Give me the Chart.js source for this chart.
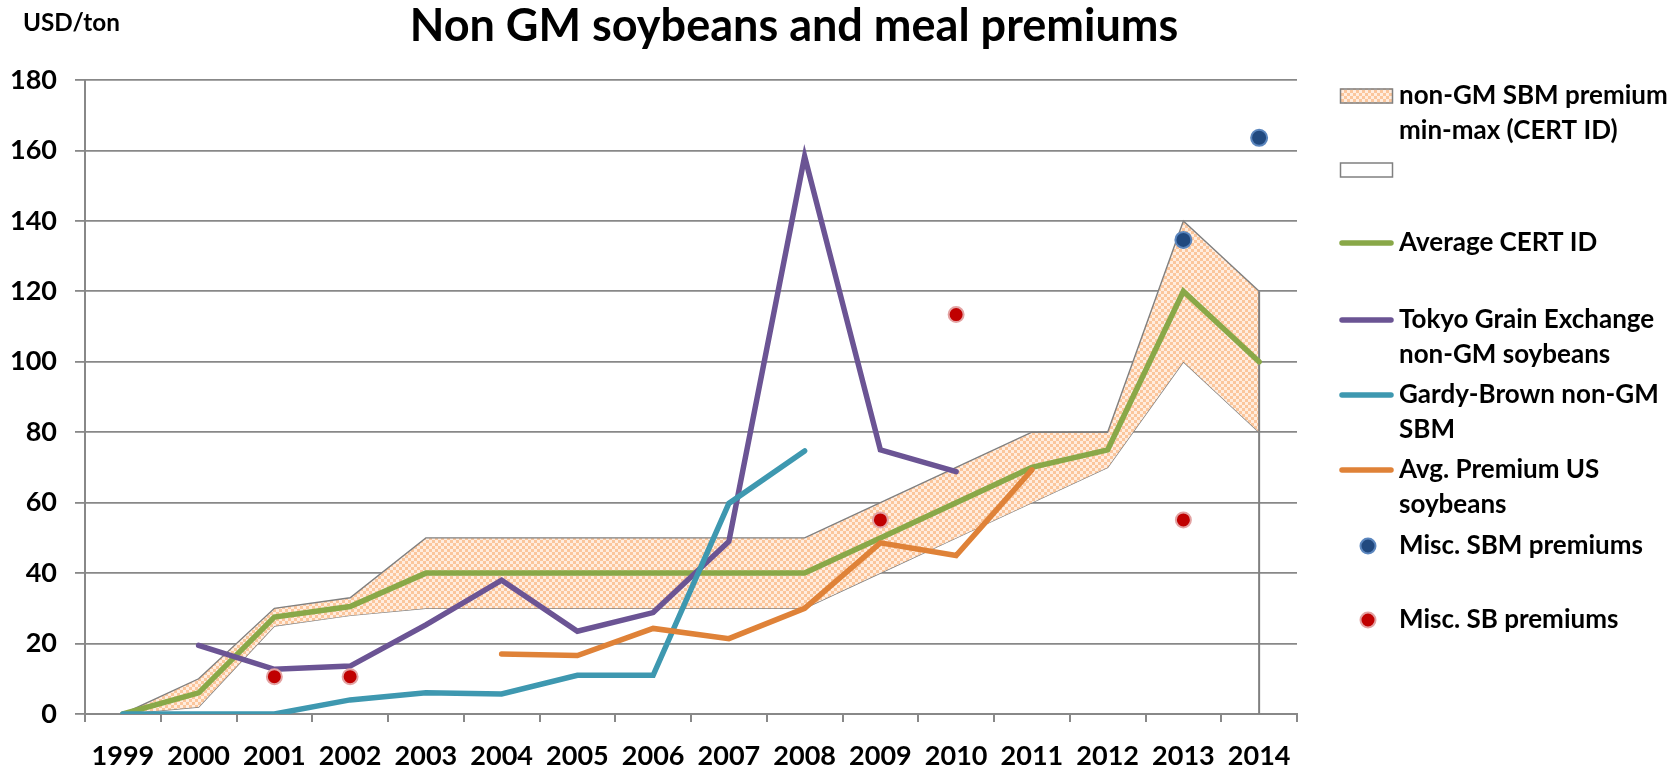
<!DOCTYPE html>
<html>
<head>
<meta charset="utf-8">
<script src="https://cdn.jsdelivr.net/npm/chart.js@4.4.1/dist/chart.umd.min.js"></script>
<style>
html,body{margin:0;padding:0;background:#ffffff;}
#wrap{position:relative;width:1677px;height:768px;}
</style>
</head>
<body>
<div id="wrap"><canvas id="c" width="1677" height="768"></canvas></div>
<script>
// ---- data ----
const years = ['1999','2000','2001','2002','2003','2004','2005','2006','2007','2008','2009','2010','2011','2012','2013','2014'];
const certMin = [0, 2, 25, 28, 30, 30, 30, 30, 30, 30, 40, 50, 60, 70, 100, 80];
const certMax = [0, 10, 30, 33, 50, 50, 50, 50, 50, 50, 60, 70, 80, 80, 140, 120];
const certAvg = [0, 6, 27.5, 30.5, 40, 40, 40, 40, 40, 40, 50, 60, 70, 75, 120, 100];
const tokyo   = [null, 19.5, 12.7, 13.6, 25.3, 38.0, 23.5, 28.8, 49.0, 158.3, 75.0, 68.8, null, null, null, null];
const gardy   = [0, 0, 0, 4.0, 6.0, 5.7, 11.0, 11.0, 59.8, 74.7, null, null, null, null, null, null];
const usAvg   = [null, null, null, null, null, 17.0, 16.6, 24.3, 21.4, 30.0, 48.6, 45.0, 69.3, null, null, null];
const miscSBM = [null, null, null, null, null, null, null, null, null, null, null, null, null, null, 134.6, 163.6];
const miscSB  = [null, null, 10.6, 10.6, null, null, null, null, null, null, 55.1, 113.4, null, null, 55.1, null];
const yMin = 0, yMax = 180, yStep = 20;

const titleText = 'Non GM soybeans and meal premiums';
const unitText = 'USD/ton';
const legendItems = [
  {type:'band',  lines:['non-GM SBM premium','min-max (CERT ID)']},
  {type:'box',   lines:['']},
  {type:'line',  color:'#89A848', lines:['Average CERT ID']},
  {type:'line',  color:'#6B5494', lines:['Tokyo Grain Exchange','non-GM soybeans']},
  {type:'line',  color:'#3E98B0', lines:['Gardy-Brown non-GM','SBM']},
  {type:'line',  color:'#DF8238', lines:['Avg. Premium US','soybeans']},
  {type:'dot',   color:'#21497F', border:'#5B86BE', lines:['Misc. SBM premiums']},
  {type:'dot',   color:'#C00000', border:'#E3A3A3', lines:['Misc. SB premiums']}
];
const legendRows = [96, 170, 243, 320, 395, 470, 546, 620];

const FONT = 'Lato, "Open Sans", sans-serif';
const ctx0 = document.getElementById('c').getContext('2d');

function makePattern(){
  const p = document.createElement('canvas'); p.width = 6; p.height = 6;
  const g = p.getContext('2d');
  g.fillStyle = '#FFEDDF'; g.fillRect(0,0,6,6);
  g.fillStyle = '#FBC69C'; g.fillRect(0,0,3,3); g.fillRect(3,3,3,3);
  return ctx0.createPattern(p, 'repeat');
}
const hatch = makePattern();

function fitSize(ctx, text, target, weight){
  ctx.font = weight + ' 100px ' + FONT;
  const w = ctx.measureText(text).width;
  return 100 * target / w;
}

const decor = {
  id: 'decor',
  afterDraw(chart){
    const ctx = chart.ctx;
    ctx.save();
    const ts = fitSize(ctx, titleText, 769, 'bold');
    ctx.font = 'bold ' + ts + 'px ' + FONT;
    ctx.fillStyle = '#000';
    ctx.textAlign = 'center';
    ctx.textBaseline = 'alphabetic';
    ctx.fillText(titleText, 794, 41);
    const us = fitSize(ctx, unitText, 97, 'bold');
    ctx.font = 'bold ' + us + 'px ' + FONT;
    ctx.textAlign = 'left';
    ctx.fillText(unitText, 23, 31);
    const ls = fitSize(ctx, 'Misc. SBM premiums', 244, 'bold');
    ctx.font = 'bold ' + ls + 'px ' + FONT;
    ctx.textBaseline = 'middle';
    const sx0 = 1340, sx1 = 1393, tx = 1399, lh = 35;
    legendItems.forEach((it, i) => {
      const y = legendRows[i];
      if (it.type === 'band' || it.type === 'box'){
        ctx.fillStyle = it.type === 'band' ? hatch : '#ffffff';
        ctx.fillRect(sx0, y - 7.5, sx1 - sx0, 15);
        ctx.strokeStyle = '#808080'; ctx.lineWidth = 1.5;
        ctx.strokeRect(sx0 + 0.5, y - 7, sx1 - sx0 - 1, 14);
      } else if (it.type === 'line'){
        ctx.strokeStyle = it.color; ctx.lineWidth = 5.5; ctx.lineCap = 'round';
        ctx.beginPath(); ctx.moveTo(sx0 + 2, y); ctx.lineTo(sx1 - 2, y); ctx.stroke();
      } else if (it.type === 'dot'){
        ctx.fillStyle = it.color; ctx.strokeStyle = it.border; ctx.lineWidth = 2;
        ctx.beginPath(); ctx.arc(1368, y, 7.5, 0, Math.PI*2); ctx.fill(); ctx.stroke();
      }
      ctx.fillStyle = '#000';
      it.lines.forEach((t, k) => { if (t) ctx.fillText(t, tx, y + k*lh); });
    });
    ctx.restore();
  }
};

const tickFont = {family: FONT, size: 27, weight: 'bold'};

new Chart(ctx0, {
  type: 'line',
  data: {
    labels: years,
    datasets: [
      {label:'Misc. SB premiums', data: miscSB, showLine:false, pointRadius:7.5, pointHoverRadius:7.5,
       pointBackgroundColor:'#C00000', pointBorderColor:'#E3A3A3', pointBorderWidth:2, order:0},
      {label:'Misc. SBM premiums', data: miscSBM, showLine:false, pointRadius:8, pointHoverRadius:8,
       pointBackgroundColor:'#21497F', pointBorderColor:'#5B86BE', pointBorderWidth:2, order:0},
      {label:'Avg. Premium US soybeans', data: usAvg, borderColor:'#DF8238', borderWidth:5.5, pointRadius:0,
       borderCapStyle:'round', spanGaps:false, fill:false, order:1},
      {label:'Gardy-Brown non-GM SBM', data: gardy, borderColor:'#3E98B0', borderWidth:5.5, pointRadius:0,
       borderCapStyle:'round', fill:false, order:2},
      {label:'Tokyo Grain Exchange non-GM soybeans', data: tokyo, borderColor:'#6B5494', borderWidth:5.5, pointRadius:0,
       borderCapStyle:'round', fill:false, order:3},
      {label:'Average CERT ID', data: certAvg, borderColor:'#89A848', borderWidth:5.5, pointRadius:0,
       borderCapStyle:'round', fill:false, order:4},
      {label:'edge', data: [{x: years[years.length-1], y: yMin}, {x: years[years.length-1], y: certMax[certMax.length-1]}],
       borderColor:'#808080', borderWidth:2, pointRadius:0, fill:false, order:5},
      {label:'non-GM SBM premium min-max (CERT ID)', data: certMax, borderColor:'#808080', borderWidth:1.4,
       pointRadius:0, backgroundColor: hatch, fill:'+1', order:6},
      {label:'min', data: certMin, borderColor:'#808080', borderWidth:1.4, pointRadius:0, fill:false, order:7}
    ]
  },
  options: {
    responsive: false,
    devicePixelRatio: 1,
    animation: false,
    layout: {padding: {top: 80, right: 380, left: 0, bottom: 0}},
    plugins: {legend: {display: false}, tooltip: {enabled: false}, title: {display: false}},
    scales: {
      x: {
        type: 'category',
        offset: true,
        grid: {offset: true, drawOnChartArea: false, drawTicks: true, tickLength: 8, color: '#888888', lineWidth: 2},
        border: {display: true, color: '#888888', width: 2},
        ticks: {font: tickFont, color: '#000', padding: 18, maxRotation: 0, autoSkip: false},
        afterFit: s => { s.height = 54; }
      },
      y: {
        min: yMin, max: yMax,
        ticks: {stepSize: yStep, font: tickFont, color: '#000', padding: 18},
        grid: {color: '#888888', lineWidth: 1.8, tickLength: 10, drawTicks: true},
        border: {display: true, color: '#888888', width: 2},
        afterFit: s => { s.width = 85; }
      }
    }
  },
  plugins: [decor]
});
</script>
</body>
</html>
